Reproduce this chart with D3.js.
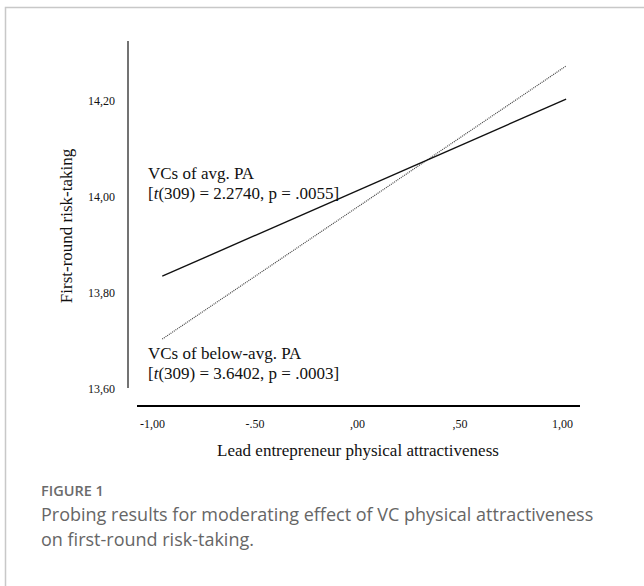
<!DOCTYPE html>
<html>
<head>
<meta charset="utf-8">
<script src="https://cdn.jsdelivr.net/npm/d3@7"></script>
<style>
  body { margin: 0; background: #fff; }
  .viz text { font-family: "Liberation Serif", "Times New Roman", serif; fill: #111; }
  .viz text.caption { font-family: "Open Sans", "Noto Sans", sans-serif; fill: #666; }
</style>
</head>
<body>
<div class="viz"></div>
<script>
// data
var xTicks = [-1, -0.5, 0, 0.5, 1];
var xTickLabels = ["-1,00", "-.50", ",00", ",50", "1,00"];
var yTicks = [13.6, 13.8, 14.0, 14.2];
var yTickLabels = ["13,60", "13,80", "14,00", "14,20"];

var lineX = [-0.95, 1.02];
var avgPA = [13.835, 14.204];      // solid
var belowAvgPA = [13.704, 14.273]; // dotted

var w = 644;
var h = 586;

var xScale = d3.scaleLinear()
    .domain([-1, 1])
    .range([152, 562]);

var yScale = d3.scaleLinear()
    .domain([13.6, 14.2])
    .range([389, 101]);

var svg = d3.select(".viz")
    .append("svg")
    .attr("width", w)
    .attr("height", h);

// frame of the figure box
svg.append("path")
    .attr("d", "M5.5," + h + " L5.5,7.5 L" + w + ",7.5")
    .attr("fill", "none")
    .attr("stroke", "#c8c8c8")
    .attr("stroke-width", 1.5);

// y axis
var yaxis = d3.axisLeft(yScale)
    .tickValues(yTicks)
    .tickSize(0)
    .tickPadding(13)
    .tickFormat(function(d, i) { return yTickLabels[i]; });

var gy = svg.append("g")
    .attr("class", "y axis")
    .attr("transform", "translate(128,0)")
    .call(yaxis);
gy.select(".domain").remove();
gy.selectAll("text").attr("font-size", "12px").attr("font-family", null);

svg.append("line")
    .attr("x1", 128).attr("x2", 128)
    .attr("y1", yScale(14.325)).attr("y2", 388)
    .attr("stroke", "#444")
    .attr("stroke-width", 1.5);

// x axis
var xaxis = d3.axisBottom(xScale)
    .tickValues(xTicks)
    .tickSize(0)
    .tickPadding(13)
    .tickFormat(function(d, i) { return xTickLabels[i]; });

var gx = svg.append("g")
    .attr("class", "x axis")
    .attr("transform", "translate(0,406)")
    .call(xaxis);
gx.select(".domain").remove();
gx.selectAll("text").attr("font-size", "12px").attr("font-family", null);

svg.append("line")
    .attr("x1", 137).attr("x2", 580)
    .attr("y1", 406).attr("y2", 406)
    .attr("stroke", "#000")
    .attr("stroke-width", 2);

// axis titles
svg.append("text")
    .attr("x", 358)
    .attr("y", 456)
    .attr("text-anchor", "middle")
    .attr("font-size", "17px")
    .text("Lead entrepreneur physical attractiveness");

svg.append("text")
    .attr("transform", "translate(72,226) rotate(-90)")
    .attr("text-anchor", "middle")
    .attr("font-size", "17px")
    .text("First-round risk-taking");

// lines
var line = d3.line()
    .x(function(d, i) { return xScale(lineX[i]); })
    .y(function(d) { return yScale(d); });

svg.append("path")
    .datum(belowAvgPA)
    .attr("d", line)
    .attr("fill", "none")
    .attr("stroke", "#444")
    .attr("stroke-width", 1.2)
    .attr("stroke-dasharray", "1,1");

svg.append("path")
    .datum(avgPA)
    .attr("d", line)
    .attr("fill", "none")
    .attr("stroke", "#111")
    .attr("stroke-width", 1.4);

// annotations
function note(y, first, tval, pval) {
    svg.append("text")
        .attr("x", 148).attr("y", y)
        .attr("font-size", "17px")
        .text(first);
    var t = svg.append("text")
        .attr("x", 148).attr("y", y + 20)
        .attr("font-size", "17px");
    t.append("tspan").text("[");
    t.append("tspan").attr("font-style", "italic").text("t");
    t.append("tspan").text("(309) = " + tval + ", p = " + pval + "]");
}
note(179, "VCs of avg. PA", "2.2740", ".0055");
note(359, "VCs of below-avg. PA", "3.6402", ".0003");

// caption
svg.append("text")
    .attr("class", "caption")
    .attr("x", 41).attr("y", 496)
    .attr("font-size", "14.5px")
    .attr("font-weight", 600)
    .style("fill", "#6b6b6b")
    .text("FIGURE 1");

svg.append("text")
    .attr("class", "caption")
    .attr("x", 41).attr("y", 521)
    .attr("font-size", "18px")
    .text("Probing results for moderating effect of VC physical attractiveness");

svg.append("text")
    .attr("class", "caption")
    .attr("x", 41).attr("y", 546)
    .attr("font-size", "18px")
    .text("on first-round risk-taking.");
</script>
</body>
</html>
